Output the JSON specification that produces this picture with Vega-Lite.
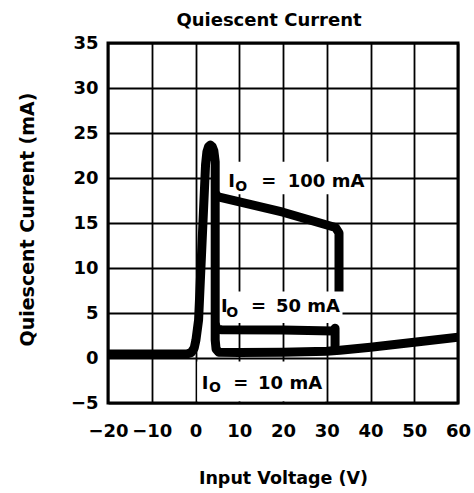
{
  "$schema": "https://vega.github.io/schema/vega-lite/v6.json",
  "width": 350,
  "height": 360,
  "autosize": {"type": "none"},
  "padding": {"left": 108, "top": 43, "right": 16, "bottom": 90},
  "background": "white",
  "config": {
    "font": "DejaVu Sans",
    "view": {"stroke": "black", "strokeWidth": 3},
    "axis": {
      "domain": false, "ticks": false, "tickSize": 0, "grid": true,
      "gridColor": "black", "gridOpacity": 1, "gridWidth": 1.8,
      "labelFont": "DejaVu Sans", "labelFontWeight": "bold", "labelFontSize": 18, "labelColor": "black",
      "titleFont": "DejaVu Sans", "titleFontWeight": "bold", "titleColor": "black"
    }
  },
  "title": {"text": "Quiescent Current", "font": "DejaVu Sans", "fontSize": 18, "fontWeight": "bold", "color": "black", "anchor": "middle", "dx": -14, "dy": 16, "offset": 6, "baseline": "alphabetic"},
  "datasets": {
    "curves": [
      {"series": "10 mA", "i": 1, "x": -20, "y": 0.45},
      {"series": "10 mA", "i": 2, "x": -2, "y": 0.45},
      {"series": "10 mA", "i": 3, "x": -1, "y": 0.6},
      {"series": "10 mA", "i": 4, "x": -0.3, "y": 1.1},
      {"series": "10 mA", "i": 5, "x": 0.1, "y": 2.0},
      {"series": "10 mA", "i": 6, "x": 0.7, "y": 4.2},
      {"series": "10 mA", "i": 7, "x": 2.3, "y": 21.5},
      {"series": "10 mA", "i": 8, "x": 2.6, "y": 22.9},
      {"series": "10 mA", "i": 9, "x": 3.0, "y": 23.5},
      {"series": "10 mA", "i": 10, "x": 3.4, "y": 23.65},
      {"series": "10 mA", "i": 11, "x": 3.8, "y": 23.5},
      {"series": "10 mA", "i": 12, "x": 4.2, "y": 23.0},
      {"series": "10 mA", "i": 13, "x": 4.5, "y": 21.8},
      {"series": "10 mA", "i": 14, "x": 4.5, "y": 2.0},
      {"series": "10 mA", "i": 15, "x": 4.7, "y": 1.0},
      {"series": "10 mA", "i": 16, "x": 5.3, "y": 0.65},
      {"series": "10 mA", "i": 17, "x": 10, "y": 0.6},
      {"series": "10 mA", "i": 18, "x": 20, "y": 0.65},
      {"series": "10 mA", "i": 19, "x": 30, "y": 0.75},
      {"series": "10 mA", "i": 20, "x": 33, "y": 0.85},
      {"series": "10 mA", "i": 21, "x": 40, "y": 1.2},
      {"series": "10 mA", "i": 22, "x": 50, "y": 1.75},
      {"series": "10 mA", "i": 23, "x": 60, "y": 2.3},
      {"series": "50 mA", "i": 1, "x": 4.5, "y": 3.8},
      {"series": "50 mA", "i": 2, "x": 4.9, "y": 3.2},
      {"series": "50 mA", "i": 3, "x": 6, "y": 3.15},
      {"series": "50 mA", "i": 4, "x": 20, "y": 3.1},
      {"series": "50 mA", "i": 5, "x": 31.4, "y": 3.0},
      {"series": "50 mA", "i": 6, "x": 31.9, "y": 3.3},
      {"series": "50 mA", "i": 7, "x": 31.9, "y": 0.9},
      {"series": "100 mA", "i": 1, "x": 4.5, "y": 18.3},
      {"series": "100 mA", "i": 2, "x": 5.2, "y": 17.9},
      {"series": "100 mA", "i": 3, "x": 20, "y": 16.2},
      {"series": "100 mA", "i": 4, "x": 32.0, "y": 14.5},
      {"series": "100 mA", "i": 5, "x": 32.8, "y": 13.9},
      {"series": "100 mA", "i": 6, "x": 32.8, "y": 7.4}
    ],
    "boxes": [
      {"x": 5.0, "x2": 37.8, "y": 18.2, "y2": 21.8},
      {"x": 4.8, "x2": 33.6, "y": 3.9, "y2": 7.4},
      {"x": 0.4, "x2": 29.6, "y": -4.8, "y2": -0.4}
    ],
    "labels": [
      {"t": "I", "kind": "main", "x": 7.5, "y": 19.0},
      {"t": "O", "kind": "sub", "x": 9.1, "y": 18.6},
      {"t": "=", "kind": "main", "x": 15.0, "y": 19.0},
      {"t": "100 mA", "kind": "main", "x": 21.1, "y": 19.0},
      {"t": "I", "kind": "main", "x": 5.85, "y": 5.1},
      {"t": "O", "kind": "sub", "x": 7.05, "y": 4.6},
      {"t": "=", "kind": "main", "x": 12.7, "y": 5.1},
      {"t": "50 mA", "kind": "main", "x": 18.4, "y": 5.1},
      {"t": "I", "kind": "main", "x": 1.4, "y": -3.4},
      {"t": "O", "kind": "sub", "x": 3.1, "y": -3.8},
      {"t": "=", "kind": "main", "x": 8.6, "y": -3.4},
      {"t": "10 mA", "kind": "main", "x": 14.3, "y": -3.4}
    ]
  },
  "encoding": {
    "x": {
      "field": "x", "type": "quantitative",
      "scale": {"domain": [-20, 60], "nice": false, "zero": false},
      "axis": {
        "values": [-20, -10, 0, 10, 20, 30, 40, 50, 60],
        "labelPadding": 19, "labelFlush": false, "labelOverlap": false,
        "title": "Input Voltage (V)", "titleFontSize": 17.5,
        "titleY": 80, "titleBaseline": "alphabetic"
      }
    },
    "y": {
      "field": "y", "type": "quantitative",
      "scale": {"domain": [-5, 35], "nice": false, "zero": false},
      "axis": {
        "values": [-5, 0, 5, 10, 15, 20, 25, 30, 35],
        "labelPadding": 10, "labelFlush": false, "labelOverlap": false,
        "title": "Quiescent Current (mA)", "titleFontSize": 19,
        "titleAngle": -90, "titleX": -75, "titleY": 176,
        "titleAlign": "center", "titleBaseline": "alphabetic"
      }
    }
  },
  "layer": [
    {
      "data": {"name": "boxes"},
      "mark": {"type": "rect", "fill": "white", "strokeWidth": 0},
      "encoding": {"x2": {"field": "x2"}, "y2": {"field": "y2"}}
    },
    {
      "data": {"name": "curves"},
      "mark": {"type": "line", "color": "black", "strokeWidth": 9, "strokeJoin": "round", "strokeCap": "butt", "clip": true},
      "encoding": {
        "detail": {"field": "series", "type": "nominal"},
        "order": {"field": "i", "type": "quantitative"}
      }
    },
    {
      "data": {"name": "labels"},
      "transform": [{"filter": "datum.kind === 'main'"}],
      "mark": {"type": "text", "align": "left", "baseline": "alphabetic", "font": "DejaVu Sans", "fontSize": 18, "fontWeight": "bold", "color": "black"},
      "encoding": {"text": {"field": "t", "type": "nominal"}}
    },
    {
      "data": {"name": "labels"},
      "transform": [{"filter": "datum.kind === 'sub'"}],
      "mark": {"type": "text", "align": "left", "baseline": "alphabetic", "font": "DejaVu Sans", "fontSize": 14, "fontWeight": "bold", "color": "black"},
      "encoding": {"text": {"field": "t", "type": "nominal"}}
    }
  ]
}
